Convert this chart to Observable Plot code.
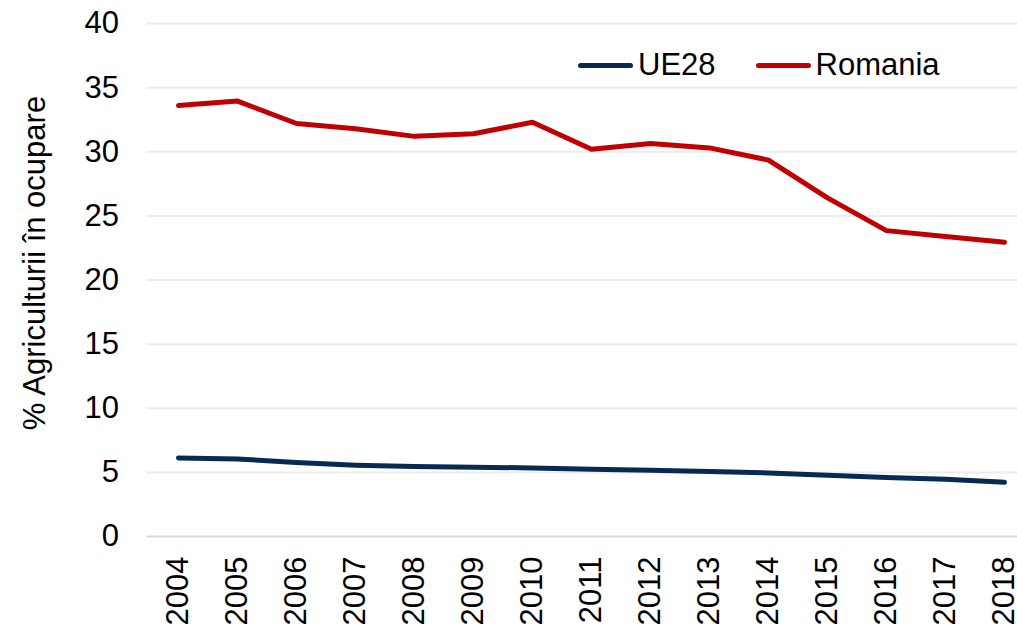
<!DOCTYPE html>
<html>
<head>
<meta charset="utf-8">
<script src="https://cdn.jsdelivr.net/npm/d3@7"></script>
<script src="https://cdn.jsdelivr.net/npm/@observablehq/plot@0.6"></script>
<style>
  html, body { margin: 0; padding: 0; background: #fff; }
  #wrap { position: relative; width: 1017px; height: 628px; overflow: hidden; font-family: "Liberation Sans", Arial, sans-serif; }
  .legend { position: absolute; top: 47px; left: 578px; display: flex; align-items: center; font-size: 31px; color: #000; }
  .item { display: flex; align-items: center; margin-right: 40px; }
  .sw { width: 55px; height: 5px; border-radius: 3px; margin-right: 5px; }
</style>
</head>
<body>
<div id="wrap"></div>
<script>
const years = ["2004","2005","2006","2007","2008","2009","2010","2011","2012","2013","2014","2015","2016","2017","2018"];
const ue28 = [6.13, 6.05, 5.77, 5.56, 5.45, 5.4, 5.35, 5.25, 5.17, 5.07, 4.96, 4.78, 4.6, 4.47, 4.23];
const romania = [33.6, 33.95, 32.2, 31.8, 31.2, 31.4, 32.3, 30.2, 30.65, 30.3, 29.35, 26.4, 23.85, 23.4, 22.95];
const seriesNames = ["UE28", "Romania"];
const seriesColors = ["#062a52", "#c00000"];
const yTicks = [0, 5, 10, 15, 20, 25, 30, 35, 40];
const yTitle = "% Agriculturii în ocupare";

const data = [];
years.forEach((y, i) => {
  data.push({year: y, value: ue28[i], series: seriesNames[0]});
  data.push({year: y, value: romania[i], series: seriesNames[1]});
});

const chart = Plot.plot({
  width: 1017,
  height: 628,
  marginLeft: 146.5,
  marginRight: 0,
  marginTop: 23,
  marginBottom: 92,
  style: {fontFamily: "'Liberation Sans', Arial, sans-serif", fontSize: "31px", color: "#000", background: "#fff"},
  x: {type: "point", domain: years, padding: 0.5, range: [146.5, 1034.6]},
  y: {domain: [0, 40]},
  color: {domain: seriesNames, range: seriesColors},
  marks: [
    Plot.ruleY(yTicks.filter(d => d > 0), {stroke: "#ececec", strokeWidth: 2}),
    Plot.ruleY([0], {stroke: "#d9d9d9", strokeWidth: 2}),
    Plot.axisY({ticks: yTicks, tickSize: 0, tickPadding: 28, label: null, fontSize: 31}),
    Plot.axisX({tickSize: 0, tickRotate: -90, tickPadding: 20, label: null, fontSize: 31}),
    Plot.text([yTitle], {frameAnchor: "left", rotate: -90, textAnchor: "middle", dx: -112, dy: -17, fontSize: 31, fill: "#000"}),
    Plot.line(data, {x: "year", y: "value", z: "series", stroke: "series", strokeWidth: 5, strokeLinecap: "round", strokeLinejoin: "round"})
  ]
});

const wrap = document.getElementById("wrap");
wrap.appendChild(chart);
const legend = document.createElement("div");
legend.className = "legend";
seriesNames.forEach((n, i) => {
  const it = document.createElement("div");
  it.className = "item";
  const sw = document.createElement("span");
  sw.className = "sw";
  sw.style.background = seriesColors[i];
  const tx = document.createElement("span");
  tx.textContent = n;
  it.appendChild(sw);
  it.appendChild(tx);
  legend.appendChild(it);
});
wrap.appendChild(legend);
</script>
</body>
</html>
